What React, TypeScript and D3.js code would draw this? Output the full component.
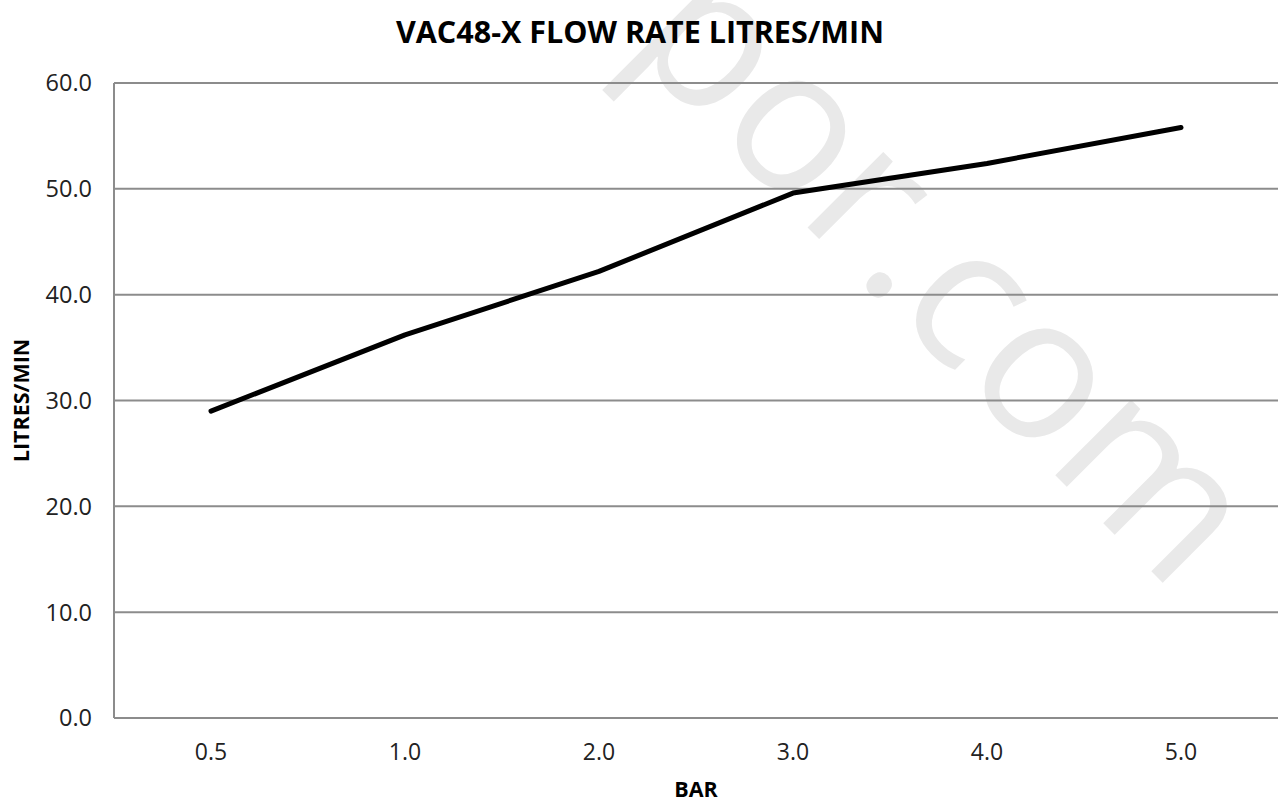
import React from "react";
import * as d3 from "d3";

const categories = ["0.5", "1.0", "2.0", "3.0", "4.0", "5.0"];
const flowValues = [29.0, 36.2, 42.2, 49.6, 52.4, 55.8];
const yTicks = [0, 10, 20, 30, 40, 50, 60];
const title = "VAC48-X FLOW RATE LITRES/MIN";
const xTitle = "BAR";
const yTitle = "LITRES/MIN";
const watermark = "por.com";

const W = 1280;
const H = 805;
const left = 114;
const right = 1278;
const top = 83;
const bottom = 718;

export default function App() {
  const x = d3.scaleBand<string>().domain(categories).range([left, right]);
  const y = d3.scaleLinear().domain([0, 60]).range([bottom, top]);
  const pts: [number, number][] = categories.map((c, i) => [x(c)! + x.bandwidth() / 2, y(flowValues[i])]);
  const line = d3.line().curve(d3.curveLinear)(pts) || "";
  const font = "'Open Sans', sans-serif";
  const midX = (left + right) / 2;
  const midY = (top + bottom) / 2;
  return (
    <svg width={W} height={H} style={{ position: "absolute", left: 0, top: 0, background: "#fff" }} fontFamily={font}>
      <rect x={0} y={0} width={W} height={H} fill="#fff" />
      <text x={0} y={0} transform="translate(624,44) rotate(45)" fontSize={200} fill="#e9e9e9">
        {watermark}
      </text>
      {yTicks.map((t) => (
        <g key={t}>
          <line x1={left} x2={right} y1={y(t)} y2={y(t)} stroke="#8c8c8c" strokeWidth={2} />
          <text x={left - 22} y={y(t)} dy="0.36em" textAnchor="end" fontSize={23.5} fill="#222">
            {t.toFixed(1)}
          </text>
        </g>
      ))}
      <line x1={left} x2={left} y1={top} y2={bottom} stroke="#8c8c8c" strokeWidth={2} />
      {categories.map((c) => (
        <text key={c} x={x(c)! + x.bandwidth() / 2} y={752} dy="0.36em" textAnchor="middle" fontSize={23} fill="#222">
          {c}
        </text>
      ))}
      <path d={line} fill="none" stroke="#000" strokeWidth={5} strokeLinejoin="round" strokeLinecap="round" />
      <text x={640} y={43} textAnchor="middle" fontSize={30.5} fontWeight="bold" fill="#000">
        {title}
      </text>
      <text x={midX} y={797} textAnchor="middle" fontSize={21.5} fontWeight="bold" fill="#000">
        {xTitle}
      </text>
      <text
        transform={`translate(21,${midY}) rotate(-90)`}
        dy="0.36em"
        textAnchor="middle"
        fontSize={21.5}
        fontWeight="bold"
        fill="#000"
      >
        {yTitle}
      </text>
    </svg>
  );
}
